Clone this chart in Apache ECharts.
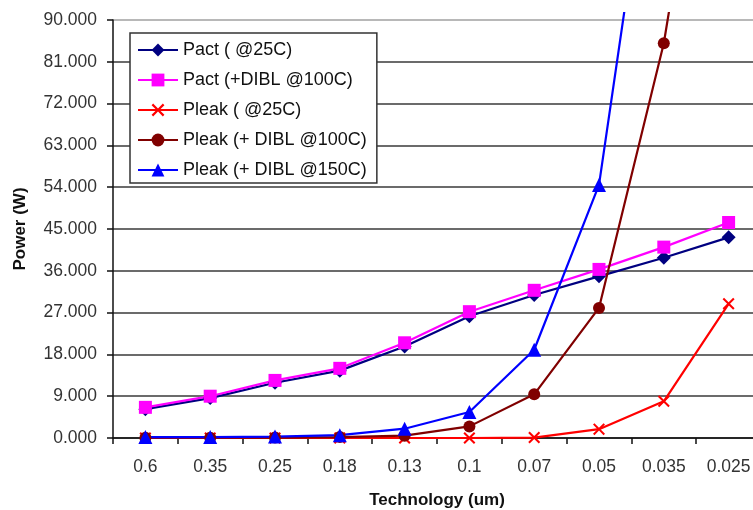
<!DOCTYPE html>
<html>
<head>
<meta charset="utf-8">
<script src="https://cdn.jsdelivr.net/npm/echarts@6/dist/echarts.min.js"></script>
<style>html,body{margin:0;padding:0;background:#fff;}#c{width:753px;height:510px;}</style>
</head>
<body>
<div id="c"></div>
<script>
const categories = ['0.6', '0.35', '0.25', '0.18', '0.13', '0.1', '0.07', '0.05', '0.035', '0.025'];
const pact25 = [6.2, 8.6, 11.9, 14.5, 19.7, 26.2, 30.8, 34.8, 38.8, 43.2];
const pactDibl100 = [6.6, 9.0, 12.4, 15.0, 20.5, 27.2, 31.8, 36.3, 41.1, 46.4];
const pleak25 = [0, 0, 0, 0, 0, 0, 0.1, 1.9, 7.9, 28.9];
const pleakDibl100 = [0.05, 0.05, 0.1, 0.2, 0.5, 2.5, 9.4, 28.0, 85.0, 170.0];
const pleakDibl150 = [0.2, 0.2, 0.3, 0.6, 2.0, 5.6, 19.0, 54.5, 150.0, 350.0];
const yTicks = [0, 9, 18, 27, 36, 45, 54, 63, 72, 81, 90];
const seriesNames = ['Pact ( @25C)', 'Pact (+DIBL @100C)', 'Pleak ( @25C)', 'Pleak (+ DIBL @100C)', 'Pleak (+ DIBL @150C)'];

const FONT = "'Liberation Sans', Arial, sans-serif";
const xPath = 'path://M0,1.2L1.2,0L5,3.8L8.8,0L10,1.2L6.2,5L10,8.8L8.8,10L5,6.2L1.2,10L0,8.8L3.8,5Z';

const chart = echarts.init(document.getElementById('c'), null, {renderer: 'canvas'});
const gridColors = yTicks.map((v, i) => i === yTicks.length - 1 ? '#a0a0a0' : '#3a3a3a');

function mk(name, data, color, symbol, size) {
  return {
    name: name, type: 'line', data: data, xAxisIndex: 1, yAxisIndex: 1,
    symbol: symbol, symbolSize: size, showSymbol: true,
    lineStyle: {color: color, width: 2.2},
    itemStyle: {color: color},
    clip: true, animation: false
  };
}

chart.setOption({
  animation: false,
  backgroundColor: '#fff',
  grid: [
    {left: 113, top: 20, width: 648, height: 418, outerBoundsMode: 'none', containLabel: false},
    {left: 113, top: 13, width: 648, height: 425, outerBoundsMode: 'none', containLabel: false}
  ],
  legend: {
    orient: 'vertical', left: 130, top: 33,
    padding: [8, 10, 4, 7],
    itemWidth: 40, itemHeight: 16, itemGap: 12,
    backgroundColor: '#fff', borderColor: '#333', borderWidth: 1.5,
    textStyle: {fontFamily: FONT, fontSize: 18, lineHeight: 18, color: '#111'},
    data: seriesNames
  },
  xAxis: [
    {
      type: 'category', gridIndex: 0, data: categories, boundaryGap: true,
      axisLine: {lineStyle: {color: '#111', width: 1.5}},
      axisTick: {show: true, length: 6, inside: false, lineStyle: {color: '#111', width: 1.5}},
      axisLabel: {fontFamily: FONT, fontSize: 17.5, color: '#333', margin: 20},
      name: 'Technology (um)', nameLocation: 'middle', nameGap: 54,
      nameTextStyle: {fontFamily: FONT, fontSize: 17, fontWeight: 'bold', color: '#111'}
    },
    {type: 'category', gridIndex: 1, data: categories, boundaryGap: true, show: false}
  ],
  yAxis: [
    {
      type: 'value', gridIndex: 0, min: 0, max: 90, interval: 9,
      axisLine: {show: true, lineStyle: {color: '#111', width: 1.5}},
      axisTick: {show: true, length: 6, inside: false, lineStyle: {color: '#111', width: 1.5}},
      axisLabel: {fontFamily: FONT, fontSize: 17.5, color: '#333', margin: 16,
        formatter: v => v.toFixed(3)},
      splitLine: {show: true, lineStyle: {color: gridColors, width: 1.5}},
      name: 'Power (W)', nameLocation: 'middle', nameGap: 84, nameRotate: 90,
      nameTextStyle: {fontFamily: FONT, fontSize: 17, fontWeight: 'bold', color: '#111'}
    },
    {type: 'value', gridIndex: 1, min: 0, max: 90 * 425 / 418, show: false, splitLine: {show: false}}
  ],
  series: [
    mk(seriesNames[0], pact25, '#000080', 'diamond', 14),
    mk(seriesNames[1], pactDibl100, '#ff00ff', 'rect', 13),
    mk(seriesNames[2], pleak25, '#ff0000', xPath, 12),
    mk(seriesNames[3], pleakDibl100, '#800000', 'circle', 12),
    mk(seriesNames[4], pleakDibl150, '#0000ff', 'triangle', 14)
  ]
});
</script>
</body>
</html>
